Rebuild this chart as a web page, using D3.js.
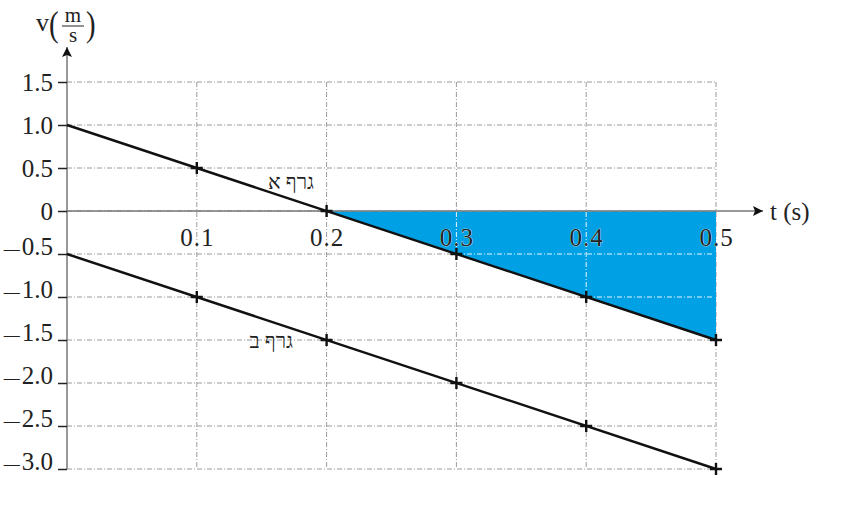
<!DOCTYPE html>
<html>
<head>
<meta charset="utf-8">
<script src="https://cdn.jsdelivr.net/npm/d3@7"></script>
<style>
body { margin: 0; background: #fff; }
svg text { font-family: "Liberation Serif", "DejaVu Serif", serif; fill: #222; }
</style>
</head>
<body>
<svg id="chart" width="846" height="523"></svg>
<script>
// data
var tValues = [0.1, 0.2, 0.3, 0.4, 0.5];
var graphA = [0.5, 0, -0.5, -1.0, -1.5];   // גרף א
var graphB = [-1.0, -1.5, -2.0, -2.5, -3.0]; // גרף ב
var lineA = [[0, 1.0], [0.5, -1.5]];
var lineB = [[0, -0.5], [0.5, -3.0]];
var areaPts = [[0.2, 0], [0.5, 0], [0.5, -1.5]];
var yTicks = [1.5, 1.0, 0.5, 0, -0.5, -1.0, -1.5, -2.0, -2.5, -3.0];
var xTicks = [0.1, 0.2, 0.3, 0.4, 0.5];

var svg = d3.select("#chart");

var x = d3.scaleLinear().domain([0, 0.5]).range([67, 716]);
var y = d3.scaleLinear().domain([-3, 1.5]).range([469, 82]);

function drawGrid(g, color) {
  g.selectAll(".h")
    .data(yTicks)
    .enter().append("line")
    .attr("x1", x(0)).attr("x2", x(0.5))
    .attr("y1", function(d) { return y(d); })
    .attr("y2", function(d) { return y(d); })
    .attr("stroke", color).attr("stroke-width", 1)
    .attr("stroke-dasharray", "5,2,1,2");
  g.selectAll(".v")
    .data(xTicks)
    .enter().append("line")
    .attr("x1", function(d) { return x(d); })
    .attr("x2", function(d) { return x(d); })
    .attr("y1", y(1.5)).attr("y2", y(-3))
    .attr("stroke", color).attr("stroke-width", 1)
    .attr("stroke-dasharray", "5,2,1,2");
}

// grid
drawGrid(svg.append("g").attr("class", "grid"), "#9a9a9a");

// shaded area between graph A and t axis
var areaLine = d3.line().x(function(d) { return x(d[0]); }).y(function(d) { return y(d[1]); }).curve(d3.curveLinearClosed);
svg.append("path")
  .datum(areaPts)
  .attr("d", areaLine)
  .attr("fill", "#00a0e4");

var defs = svg.append("defs");
defs.append("clipPath").attr("id", "areaClip")
  .append("path").datum(areaPts).attr("d", areaLine)
  .attr("transform", "translate(-4,0)");
drawGrid(svg.append("g").attr("clip-path", "url(#areaClip)"), "#e8f6fd");

// axes
defs.append("marker")
  .attr("id", "arrow")
  .attr("viewBox", "0 0 10 10")
  .attr("refX", 10).attr("refY", 5)
  .attr("markerWidth", 14).attr("markerHeight", 10)
  .attr("markerUnits", "userSpaceOnUse")
  .attr("orient", "auto")
  .append("path")
  .attr("d", "M0,0 L10,5 L0,10 L2,5 Z")
  .attr("fill", "#111");

svg.append("line")
  .attr("x1", x(0)).attr("x2", 763)
  .attr("y1", y(0)).attr("y2", y(0))
  .attr("stroke", "#777").attr("stroke-width", 1.5)
  .attr("marker-end", "url(#arrow)");

svg.append("line")
  .attr("x1", x(0)).attr("x2", x(0))
  .attr("y1", y(-3)).attr("y2", 47)
  .attr("stroke", "#777").attr("stroke-width", 1.5)
  .attr("marker-end", "url(#arrow)");

var yAxis = d3.axisLeft(y).tickValues(yTicks).tickSize(9).tickPadding(5).tickFormat("");
var gy = svg.append("g").attr("transform", "translate(" + x(0) + ",0)").call(yAxis);
gy.select(".domain").remove();
gy.selectAll(".tick line").attr("stroke", "#222").attr("stroke-width", 1.5);
gy.selectAll(".tick text").each(function(d) {
  var t = d3.select(this)
    .style("font-size", "25px")
    .attr("font-family", "Liberation Serif, serif").attr("fill", "#222");
  var s = d === 0 ? "0" : Math.abs(d).toFixed(1);
  if (d < 0) {
    t.append("tspan").style("font-size", "16px").attr("dy", "-1").text("\u2014");
    t.append("tspan").attr("dx", "2").attr("dy", "1").text(s);
  } else {
    t.text(s);
  }
});

var xAxis = d3.axisBottom(x).tickValues(xTicks).tickSize(0).tickPadding(17).tickFormat(d3.format(".1f"));
var gx = svg.append("g").attr("transform", "translate(0," + y(0) + ")").call(xAxis);
gx.select(".domain").remove();
gx.selectAll(".tick text")
  .style("font-size", "25px").style("letter-spacing", "1px")
  .attr("fill", "#222")
  .attr("font-family", "Liberation Serif, serif")
  .attr("stroke", "#fff").attr("stroke-width", 0.6).attr("paint-order", "stroke");

// data lines
var line = d3.line().x(function(d) { return x(d[0]); }).y(function(d) { return y(d[1]); });
[lineA, lineB].forEach(function(l) {
  svg.append("path").datum(l).attr("d", line)
    .attr("fill", "none").attr("stroke", "#111").attr("stroke-width", 2.4);
});

// plus markers
function plusMarks(vals) {
  var pts = tValues.map(function(t, i) { return [t, vals[i]]; });
  var g = svg.append("g");
  g.selectAll("path").data(pts).enter().append("path")
    .attr("d", function(d) {
      var cx = x(d[0]), cy = y(d[1]), r = 6;
      return "M" + (cx - r) + "," + cy + "H" + (cx + r) + "M" + cx + "," + (cy - r) + "V" + (cy + r);
    })
    .attr("stroke", "#111").attr("stroke-width", 2.4);
}
plusMarks(graphA);
plusMarks(graphB);

// series labels
svg.append("text").attr("x", 314).attr("y", 189).attr("text-anchor", "end")
  .style("font-size", "21px").text("גרף א");
svg.append("text").attr("x", 293).attr("y", 348).attr("text-anchor", "end")
  .style("font-size", "21px").text("גרף ב");

// axis titles
svg.append("text").attr("x", 770).attr("y", 220).style("font-size", "25px").text("t (s)");

var yl = svg.append("g");
yl.append("text").attr("x", 36).attr("y", 31).style("font-size", "26px").text("v");
yl.append("text").attr("x", 49).attr("y", 36).style("font-size", "36px")
  .attr("transform", "translate(49,36) scale(0.8,1) translate(-49,-36)").text("(");
yl.append("text").attr("x", 73).attr("y", 22).attr("text-anchor", "middle").style("font-size", "21px").text("m");
yl.append("line").attr("x1", 62).attr("x2", 84).attr("y1", 26).attr("y2", 26)
  .attr("stroke", "#222").attr("stroke-width", 1);
yl.append("text").attr("x", 73).attr("y", 42).attr("text-anchor", "middle").style("font-size", "21px").text("s");
yl.append("text").attr("x", 86).attr("y", 36).style("font-size", "36px")
  .attr("transform", "translate(86,36) scale(0.8,1) translate(-86,-36)").text(")");
</script>
</body>
</html>
